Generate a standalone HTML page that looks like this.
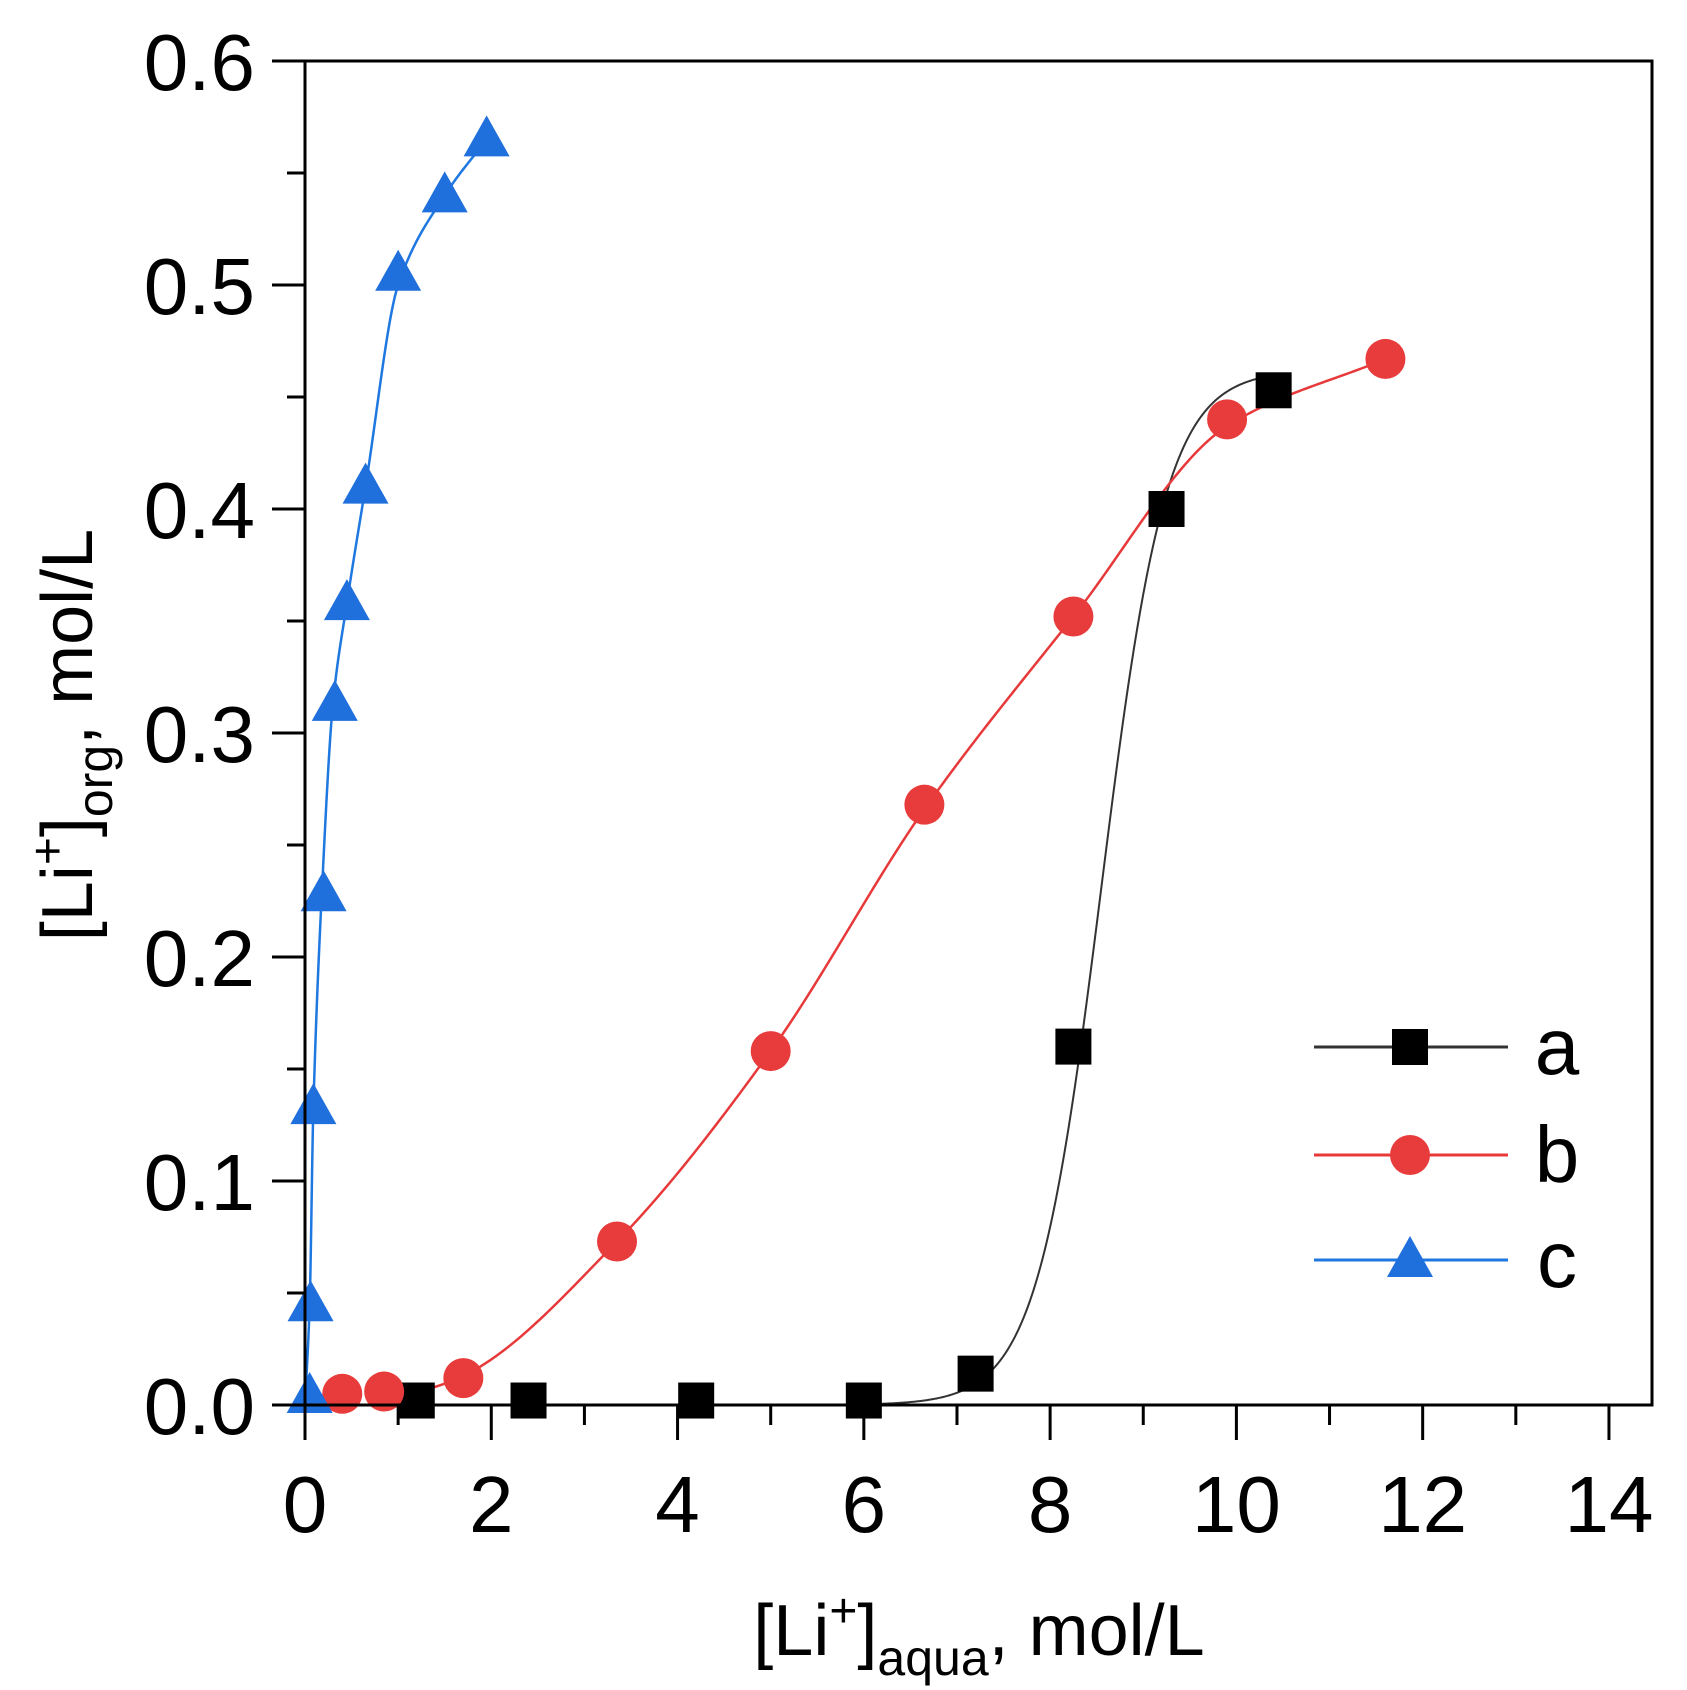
<!DOCTYPE html>
<html><head><meta charset="utf-8"><style>
html,body{margin:0;padding:0;background:#fff;}
svg{display:block;font-family:"Liberation Sans",Arial,sans-serif;}
</style></head><body>
<svg id="s" width="1687" height="1690" viewBox="0 0 1687 1690" xmlns="http://www.w3.org/2000/svg">
<rect width="1687" height="1690" fill="#fff"/>
<g id="curves"></g>
<g id="marks"></g>
<rect x="305" y="61" width="1347" height="1344" fill="none" stroke="#000" stroke-width="3"/>
<g id="ticks" stroke="#000" stroke-width="3"></g>
<g font-size="80" fill="#000" id="labels"></g>
<text x="979" y="1655" font-size="72" text-anchor="middle">[Li<tspan dy="-28" font-size="48">+</tspan><tspan dy="28">]</tspan><tspan dy="20" font-size="50">aqua</tspan><tspan dy="-20">, mol/L</tspan></text>
<text transform="translate(92,735) rotate(-90)" font-size="72" text-anchor="middle">[Li<tspan dy="-28" font-size="48">+</tspan><tspan dy="28">]</tspan><tspan dy="20" font-size="50">org</tspan><tspan dy="-20">, mol/L</tspan></text>
<g id="legend"></g>
</svg>
<script>
var NS="http://www.w3.org/2000/svg";
function X(x){return 305+x*93.14;}
function Y(y){return 1405-y*2240;}
function el(p,t,a){var e=document.createElementNS(NS,t);for(var k in a)e.setAttribute(k,a[k]);document.getElementById(p).appendChild(e);return e;}
for(var i=0;i<=14;i++){var x=X(i);el("ticks","line",{x1:x,y1:1405,x2:x,y2:i%2==0?1440:1425});}
for(var i=0;i<=12;i++){var y=Y(i*0.05);el("ticks","line",{x1:305,y1:y,x2:i%2==0?272:287,y2:y});}
for(var i=0;i<=14;i+=2){var t=el("labels","text",{x:X(i),y:1532,"text-anchor":"middle"});t.textContent=i;}
for(var i=0;i<=6;i++){var t=el("labels","text",{x:255,y:Y(i*0.1)+29,"text-anchor":"end"});t.textContent=(i/10).toFixed(1);}
// monotone cubic
function mono(pts){var n=pts.length,xs=pts.map(p=>p[0]),ys=pts.map(p=>p[1]),d=[],m=[];
for(var i=0;i<n-1;i++)d.push((ys[i+1]-ys[i])/(xs[i+1]-xs[i]));
m[0]=d[0];m[n-1]=d[n-2];for(var i=1;i<n-1;i++){m[i]=(d[i-1]*d[i]<=0)?0:(2/(1/d[i-1]+1/d[i]))*1;}
var out=[];for(var i=0;i<n-1;i++){var h=xs[i+1]-xs[i];for(var k=0;k<=40;k++){var t=k/40,t2=t*t,t3=t2*t;
var y=(2*t3-3*t2+1)*ys[i]+(t3-2*t2+t)*h*m[i]+(-2*t3+3*t2)*ys[i+1]+(t3-t2)*h*m[i+1];out.push(X(xs[i]+t*h)+","+Y(y));}}
return out.join(" ");}
var a=[];for(var x=4.5;x<=10.42;x+=0.02){a.push(X(x)+","+Y(0.462/(1+Math.exp(-(x-8.55)/0.35))));}
el("curves","polyline",{points:a.join(" "),fill:"none",stroke:"#333","stroke-width":2});
var B=[[0.9,0.002],[1.7,0.013],[3.35,0.073],[5.0,0.158],[6.65,0.266],[8.25,0.352],[9.9,0.437],[11.6,0.467]];
el("curves","polyline",{points:mono(B),fill:"none",stroke:"#e8393a","stroke-width":2.5});
var C=[[0,0],[0.05,0.045],[0.09,0.133],[0.18,0.228],[0.3,0.313],[0.45,0.358],[0.65,0.41],[1.0,0.5],[1.5,0.54],[1.95,0.565]];
el("curves","polyline",{points:mono(C),fill:"none",stroke:"#1e78e0","stroke-width":2.5});
function sq(p,x,y){el(p,"rect",{x:x-18,y:y-18,width:36,height:36,fill:"#000"});}
function ci(p,x,y){el(p,"circle",{cx:x,cy:y,r:20,fill:"#e83c3c"});}
function tr(p,x,y){el(p,"polygon",{points:(x)+","+(y-24)+" "+(x-23)+","+(y+17)+" "+(x+23)+","+(y+17),fill:"#1f6fdc"});}
[[1.2,0.002],[2.4,0.002],[4.2,0.002],[6.0,0.002],[7.2,0.014],[8.25,0.16],[9.25,0.40],[10.4,0.453]].forEach(function(p){sq("marks",X(p[0]),Y(p[1]));});
[[0.4,0.005],[0.85,0.006],[1.7,0.012],[3.35,0.073],[5.0,0.158],[6.65,0.268],[8.25,0.352],[9.9,0.44],[11.6,0.467]].forEach(function(p){ci("marks",X(p[0]),Y(p[1]));});
[[0.05,0.004],[0.06,0.045],[0.09,0.133],[0.2,0.228],[0.32,0.313],[0.45,0.358],[0.65,0.41],[1.0,0.505],[1.5,0.54],[1.95,0.565]].forEach(function(p){tr("marks",X(p[0]),Y(p[1]));});
var rows=[[1047,"#333",sq,"a"],[1155,"#e8393a",ci,"b"],[1260,"#1e78e0",tr,"c"]];
rows.forEach(function(r){el("legend","line",{x1:1314,y1:r[0],x2:1508,y2:r[0],stroke:r[1],"stroke-width":3});r[2]("legend",1410,r[0]);
var t=el("legend","text",{x:1557,y:r[0]+27,"font-size":80,"text-anchor":"middle"});t.textContent=r[3];});
</script>
</body></html>
